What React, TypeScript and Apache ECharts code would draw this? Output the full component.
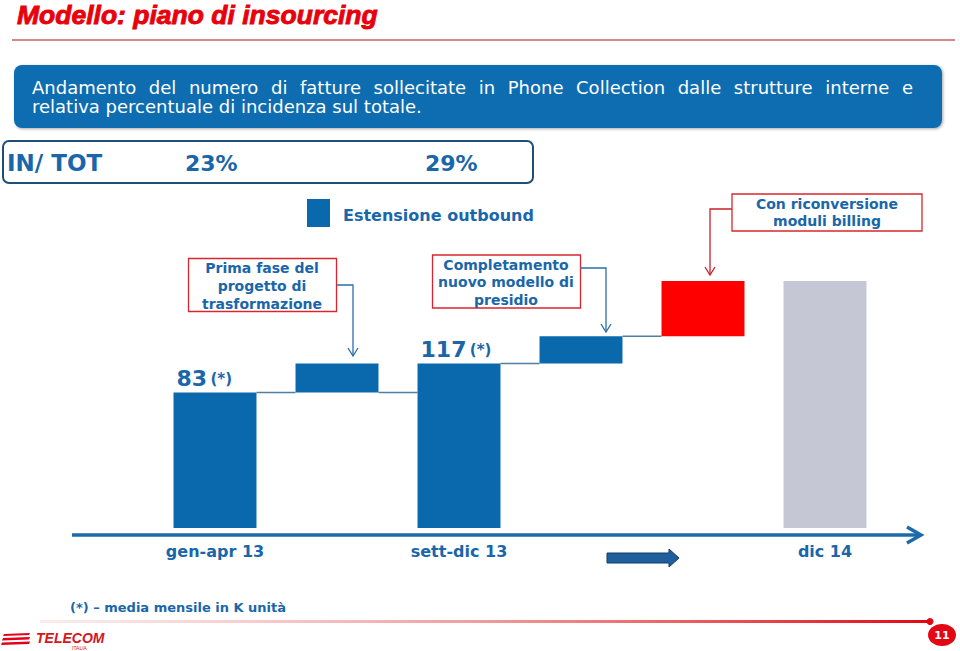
import React, { useEffect, useRef } from "react";
import * as echarts from "echarts";

// ---- data ----
const categories = ["gen-apr 13", "Prima fase", "sett-dic 13", "Completamento", "Riconversione", "dic 14"];
const barFrom: (number | null)[] = [null, 83, null, 117, 149, null]; // null = total bar from axis base
const barTo = [83, 117, 117, 149, 214, 214];
const barKind = ["total", "step", "total", "step", "red", "final"];
const totalLabels = ["83", "", "117", "", "", ""];

const titleText = "Modello: piano di insourcing";
const headerLine1 = "Andamento del numero di fatture sollecitate in Phone Collection dalle strutture interne e";
const headerLine2 = "relativa percentuale di incidenza sul totale.";
const ratioLabel = "IN/ TOT";
const ratioValues = ["23%", "29%"];
const legendText = "Estensione outbound";
const noteA = "Prima fase del\nprogetto di\ntrasformazione";
const noteB = "Completamento\nnuovo modello di\npresidio";
const noteC = "Con riconversione\nmoduli billing";
const footnote = "(*) – media mensile in K unità";
const pageNo = "11";

const Y_MIN = -76;
const Y_MAX = 214;

const BLUE = "#0a69ad";
const TXT = "#1a66aa";
const RED_BOX = "#d9262e";

function measure(text: string, font: string) {
  const c = document.createElement("canvas").getContext("2d")!;
  c.font = font;
  return c.measureText(text).width;
}

export default function App() {
  const ref = useRef<HTMLDivElement>(null);
  useEffect(() => {
    const chart = echarts.init(ref.current!, null, { renderer: "svg" });

    const headerFont = '18px "DejaVu Sans"';
    const words = headerLine1.split(" ");
    const ws = words.map((w) => measure(w, headerFont));
    const sum = ws.reduce((a, b) => a + b, 0);
    const lineW = 881;
    const gap = (lineW - sum) / (words.length - 1);
    let cx = 32;
    const headerWords: any[] = words.map((w, k) => {
      const el = {
        type: "text",
        x: cx,
        y: 87,
        style: { text: w, font: headerFont, fill: "#ffffff", align: "left", verticalAlign: "middle" },
      };
      cx += ws[k] + gap;
      return el;
    });

    const renderItem = (params: any, api: any) => {
      const i = params.dataIndex;
      const from = barFrom[i] === null ? Y_MIN : (barFrom[i] as number);
      const to = barTo[i];
      const [x, yTop] = api.coord([i, to]);
      const yBot = api.coord([i, from])[1];
      const step = api.size([1, 0])[0];
      const bw = step * 0.68;
      const kind = barKind[i];
      const fill = kind === "red" ? "#ff0000" : kind === "final" ? "#c5c8d4" : BLUE;
      const children: any[] = [
        { type: "rect", shape: { x: x - bw / 2, y: yTop, width: bw, height: yBot - yTop }, style: { fill } },
      ];
      const conn = { stroke: "#4f7fa3", lineWidth: 1.5 };
      if (barFrom[i] !== null) {
        const prevX = api.coord([i - 1, from])[0];
        children.push({
          type: "line",
          shape: { x1: prevX + bw / 2, y1: yBot, x2: x - bw / 2, y2: yBot },
          style: conn,
        });
        if (i + 1 < barTo.length - 1 && barFrom[i + 1] === null) {
          const nextX = api.coord([i + 1, from])[0];
          children.push({
            type: "line",
            shape: { x1: x + bw / 2, y1: yBot, x2: nextX - bw / 2, y2: yBot },
            style: conn,
          });
        }
      }
      if (totalLabels[i]) {
        children.push({
          type: "text",
          x: x - bw / 2 + 3,
          y: yTop - 3,
          style: {
            text: `{n|${totalLabels[i]}} {s|(*)}`,
            align: "left",
            verticalAlign: "bottom",
            rich: {
              n: { fontSize: 22, fontWeight: "bold", fontFamily: "DejaVu Sans", fill: TXT },
              s: { fontSize: 15, fontWeight: "bold", fontFamily: "DejaVu Sans", fill: TXT },
            },
          },
        });
      }
      return { type: "group", children };
    };

    const boldFont = (s: number) => `bold ${s}px "DejaVu Sans"`;
    const arrowBlue = "#2a6fa8";

    const graphics: any[] = [
      // title
      { type: "text", x: 17, y: 15, style: { text: titleText, font: 'italic bold 26.5px "Liberation Sans"', fill: "#e8000b", stroke: "#e8000b", lineWidth: 0.9, verticalAlign: "middle" } },
      { type: "line", shape: { x1: 12, y1: 40, x2: 955, y2: 40 }, style: { stroke: "#c9605c", lineWidth: 1.5 } },
      // header box
      { type: "rect", shape: { x: 14, y: 65, width: 928, height: 63, r: 8 }, style: { fill: "#0b6db0", shadowBlur: 3, shadowColor: "rgba(0,0,0,0.35)", shadowOffsetX: 1, shadowOffsetY: 1 } },
      ...headerWords,
      { type: "text", x: 32, y: 106, style: { text: headerLine2, font: headerFont, fill: "#ffffff", verticalAlign: "middle" } },
      // ratio box
      { type: "rect", shape: { x: 3, y: 141, width: 530, height: 42, r: 6 }, style: { fill: "none", stroke: "#1f4e79", lineWidth: 2 } },
      { type: "text", x: 7, y: 163, style: { text: ratioLabel, font: boldFont(23), fill: TXT, verticalAlign: "middle" } },
      { type: "text", x: 185, y: 163, style: { text: ratioValues[0], font: boldFont(22), fill: TXT, verticalAlign: "middle" } },
      { type: "text", x: 425, y: 163, style: { text: ratioValues[1], font: boldFont(22), fill: TXT, verticalAlign: "middle" } },
      // legend
      { type: "rect", shape: { x: 307, y: 199, width: 23, height: 28 }, style: { fill: BLUE } },
      { type: "text", x: 343, y: 215, style: { text: legendText, font: boldFont(16), fill: TXT, verticalAlign: "middle" } },
      // note A
      { type: "rect", shape: { x: 188.5, y: 258.5, width: 148, height: 53 }, style: { fill: "#fff", stroke: RED_BOX, lineWidth: 1.3 } },
      { type: "text", x: 262, y: 286, style: { text: noteA, font: boldFont(14), lineHeight: 18, fill: TXT, align: "center", verticalAlign: "middle" } },
      { type: "polyline", shape: { points: [[337, 285], [353, 285], [353, 356]] }, style: { stroke: arrowBlue, lineWidth: 1.3, fill: "none" } },
      { type: "polyline", shape: { points: [[348, 348], [353, 356], [358, 348]] }, style: { stroke: arrowBlue, lineWidth: 1.3, fill: "none" } },
      // note B
      { type: "rect", shape: { x: 432.5, y: 255, width: 148, height: 53 }, style: { fill: "#fff", stroke: RED_BOX, lineWidth: 1.3 } },
      { type: "text", x: 506, y: 282, style: { text: noteB, font: boldFont(14), lineHeight: 17.5, fill: TXT, align: "center", verticalAlign: "middle" } },
      { type: "polyline", shape: { points: [[580.5, 268], [606, 268], [606, 332]] }, style: { stroke: arrowBlue, lineWidth: 1.3, fill: "none" } },
      { type: "polyline", shape: { points: [[601, 324], [606, 332], [611, 324]] }, style: { stroke: arrowBlue, lineWidth: 1.3, fill: "none" } },
      // note C
      { type: "rect", shape: { x: 732, y: 194, width: 190, height: 37 }, style: { fill: "#fff", stroke: RED_BOX, lineWidth: 1.3 } },
      { type: "text", x: 827, y: 212.5, style: { text: noteC, font: boldFont(14), lineHeight: 17, fill: TXT, align: "center", verticalAlign: "middle" } },
      { type: "polyline", shape: { points: [[732, 209], [710, 209], [710, 275]] }, style: { stroke: "#c8202a", lineWidth: 1.3, fill: "none" } },
      { type: "polyline", shape: { points: [[705, 267], [710, 275], [715, 267]] }, style: { stroke: "#c8202a", lineWidth: 1.3, fill: "none" } },
      // time axis
      { type: "line", shape: { x1: 72, y1: 535, x2: 919, y2: 535 }, style: { stroke: "#1b6aab", lineWidth: 3.5 } },
      { type: "polyline", shape: { points: [[907, 527], [921, 535], [907, 543]] }, style: { stroke: "#1b6aab", lineWidth: 3.5, fill: "none" } },
      // block arrow
      { type: "polygon", shape: { points: [[607, 553], [669, 553], [669, 549], [679, 558], [669, 567], [669, 563], [607, 563]] }, style: { fill: "#1f5f9c", stroke: "#0f3d68", lineWidth: 1 } },
      // footnote
      { type: "text", x: 70, y: 607, style: { text: footnote, font: boldFont(13), fill: TXT, verticalAlign: "middle" } },
      // bottom line
      {
        type: "rect",
        shape: { x: 40, y: 620, width: 891, height: 3 },
        style: {
          fill: new echarts.graphic.LinearGradient(0, 0, 1, 0, [
            { offset: 0, color: "rgba(240,190,190,0.3)" },
            { offset: 0.5, color: "rgba(235,120,120,0.75)" },
            { offset: 1, color: "#e30613" },
          ]),
        },
      },
      { type: "circle", shape: { cx: 930, cy: 621.5, r: 3.5 }, style: { fill: "#e30613" } },
      { type: "ellipse", shape: { cx: 942, cy: 635, rx: 14, ry: 11 }, style: { fill: "#e30613" } },
      { type: "text", x: 942, y: 635, style: { text: pageNo, font: 'bold 11px "DejaVu Sans"', fill: "#fff", align: "center", verticalAlign: "middle" } },
      // logo
      { type: "polygon", shape: { points: [[4, 634], [30, 633], [29, 635], [3, 636]] }, style: { fill: "#e2001a" } },
      { type: "polygon", shape: { points: [[3, 638], [30, 637], [29, 639.5], [2, 640.5]] }, style: { fill: "#e2001a" } },
      { type: "polygon", shape: { points: [[2, 642.5], [30, 641.5], [29, 644], [1, 645]] }, style: { fill: "#e2001a" } },
      { type: "text", x: 36, y: 638, style: { text: "TELECOM", font: 'italic bold 14px "Liberation Sans"', fill: "#d9141c", verticalAlign: "middle" } },
      { type: "text", x: 72, y: 648, style: { text: "ITALIA", font: '5px "Liberation Sans"', fill: "#d9141c", verticalAlign: "middle" } },
    ];

    chart.setOption({
      animation: false,
      grid: { left: 154, right: 74, top: 281, bottom: 123 },
      xAxis: {
        type: "category",
        data: categories,
        axisLine: { show: false },
        axisTick: { show: false },
        splitLine: { show: false },
        axisLabel: {
          interval: 0,
          margin: 15,
          fontSize: 16,
          fontWeight: "bold",
          fontFamily: "DejaVu Sans",
          color: TXT,
          formatter: (v: string, idx: number) => (barFrom[idx] === null ? v : ""),
        },
      },
      yAxis: { type: "value", min: Y_MIN, max: Y_MAX, show: false, splitLine: { show: false } },
      series: [
        {
          type: "custom",
          renderItem,
          data: barTo.map((v, i) => [i, v]),
          encode: { x: 0, y: 1 },
          clip: false,
        },
      ],
      graphic: { elements: graphics },
    });

    return () => chart.dispose();
  }, []);

  return <div ref={ref} style={{ position: "fixed", left: 0, top: 0, width: 960, height: 651, background: "#fff" }} />;
}
